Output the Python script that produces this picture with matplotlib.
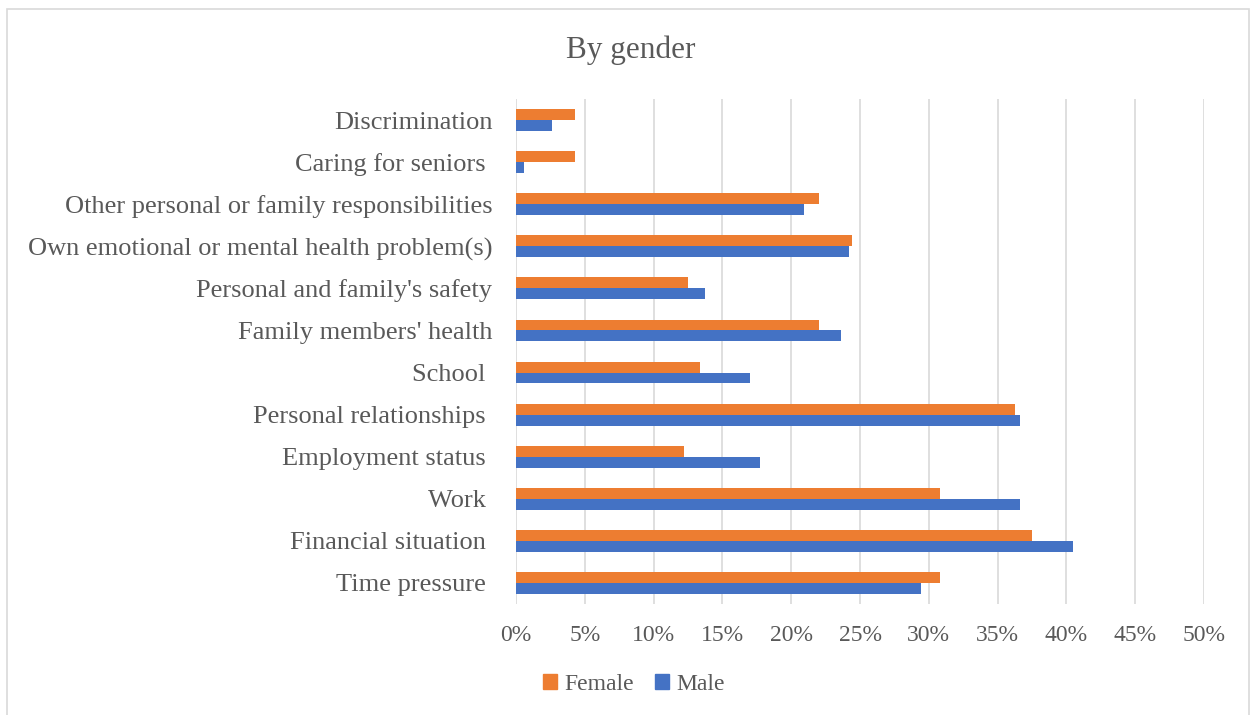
import numpy as np
import matplotlib.pyplot as plt
from matplotlib.patches import Patch, Rectangle

# categories listed bottom -> top (barh draws from the bottom up)
categories = [
    "Time pressure ",
    "Financial situation ",
    "Work ",
    "Employment status ",
    "Personal relationships ",
    "School ",
    "Family members' health",
    "Personal and family's safety",
    "Own emotional or mental health problem(s)",
    "Other personal or family responsibilities",
    "Caring for seniors ",
    "Discrimination",
]
female = [0.308, 0.375, 0.308, 0.122, 0.363, 0.134, 0.220, 0.125, 0.244, 0.220, 0.043, 0.043]
male = [0.294, 0.405, 0.366, 0.177, 0.366, 0.170, 0.236, 0.137, 0.242, 0.209, 0.006, 0.026]
xticks = np.arange(0, 0.51, 0.05)

ORANGE = "#ED7D31"
BLUE = "#4472C4"
GREY = "#595959"
FONT = "Liberation Serif"

fig = plt.figure(figsize=(12.53, 7.15), dpi=100)
ax = fig.add_axes([516 / 1253, 1 - 604 / 715, 688 / 1253, 505 / 715])

y = np.arange(len(categories))
h = 0.26
ax.barh(y + h / 2, female, height=h, color=ORANGE, zorder=3)
ax.barh(y - h / 2, male, height=h, color=BLUE, zorder=3)

ax.set_xlim(0, 0.5)
ax.set_ylim(-0.5, len(categories) - 0.5)
ax.set_xticks(xticks)
ax.set_xticklabels([f"{int(round(t * 100))}%" for t in xticks],
                   fontfamily=FONT, fontsize=17, color=GREY)
ax.set_yticks(y)
ax.set_yticklabels(categories, fontfamily=FONT, fontsize=19, color=GREY)
ax.tick_params(axis="both", length=0)
ax.tick_params(axis="y", pad=17)
ax.tick_params(axis="x", pad=15)
ax.grid(axis="x", color="#d9d9d9", linewidth=1.2, zorder=0)
for s in ax.spines.values():
    s.set_visible(False)

fig.text(631 / 1253, 1 - 50 / 715, "By gender", ha="center", va="center",
         fontfamily=FONT, fontsize=22.5, color=GREY)

handles = [Patch(color=ORANGE, label="Female"), Patch(color=BLUE, label="Male")]
fig.legend(handles=handles, loc="center", bbox_to_anchor=(634 / 1253, 1 - 684 / 715),
           ncol=2, frameon=False, handlelength=0.6, handleheight=0.6,
           handletextpad=0.3, columnspacing=0.9,
           prop={"family": FONT, "size": 17}, labelcolor=GREY)

# light chart-area frame
fig.add_artist(Rectangle((7 / 1253, -0.01), 1242 / 1253, 1 - 9 / 715 + 0.01,
                         transform=fig.transFigure, fill=False,
                         edgecolor="#d9d9d9", linewidth=1.2))

fig.savefig("out.png", dpi=100)
